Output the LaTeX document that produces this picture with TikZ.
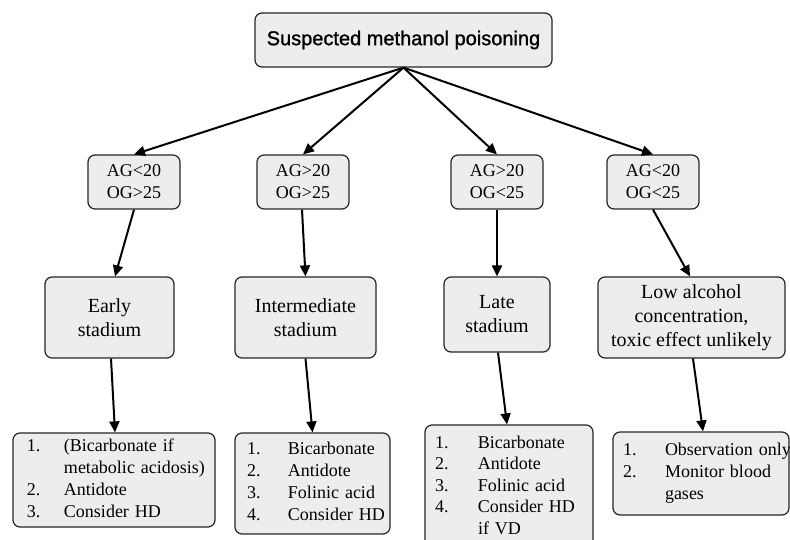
\documentclass[tikz,border=0pt]{standalone}
\usepackage{fontspec}
\setmainfont{Liberation Serif}
\newfontfamily\arialf[FakeBold=1.2]{Liberation Sans}
\usetikzlibrary{arrows.meta}
\begin{document}
\begin{tikzpicture}[x=1pt,y=-1pt,
 box/.style={draw=black!85, fill=black!7, line width=1.2pt, rounded corners=7pt, inner sep=0pt},
 conn/.style={line width=2pt, -{Triangle[length=11pt,width=10pt]}},
 ag/.style={box, minimum width=92pt, minimum height=54pt, align=center, font=\fontsize{18}{22}\selectfont},
 st/.style={box, align=center, font=\fontsize{20}{24}\selectfont},
 lst/.style={box, align=left, font=\fontsize{18}{22}\selectfont}]
\useasboundingbox (0,0) rectangle (790,540);
\clip (0,0) rectangle (790,540);
\node[box, minimum width=297pt, minimum height=54pt, font=\arialf\fontsize{20}{24}\selectfont] (top) at (403.5,40) {Suspected methanol poisoning};
\node[ag] (ag1) at (134,182) {AG<20\\OG>25};
\node[ag] (ag2) at (303,182) {AG>20\\OG>25};
\node[ag] (ag3) at (497,182) {AG>20\\OG<25};
\node[ag] (ag4) at (653,182) {AG<20\\OG<25};
\node[st, minimum width=129pt, minimum height=81pt] (st1) at (109.5,317.5) {Early\\stadium};
\node[st, minimum width=141pt, minimum height=81pt] (st2) at (305.5,317.5) {Intermediate\\stadium};
\node[st, minimum width=106pt, minimum height=75pt] (st3) at (497,314.5) {Late\\stadium};
\node[st, minimum width=187pt, minimum height=81pt] (st4) at (691.5,317.5) {Low alcohol\\concentration,\\toxic effect unlikely};
\node[lst, text width=174pt, inner xsep=14pt, minimum height=94pt] (la) at (114,480)
 {\begin{tabular}{@{}p{37pt}@{}l@{}}1.&(Bicarbonate if\\&metabolic acidosis)\\2.&Antidote\\3.&Consider HD\end{tabular}};
\node[lst, text width=131pt, inner xsep=12pt, minimum height=101pt] (lb) at (312.5,483.5)
 {\begin{tabular}{@{}p{41pt}@{}l@{}}1.&Bicarbonate\\2.&Antidote\\3.&Folinic acid\\4.&Consider HD\end{tabular}};
\node[lst, text width=148pt, inner xsep=10pt, minimum height=124pt, font=\fontsize{18}{21.5}\selectfont] (lc) at (509,487)
 {\begin{tabular}{@{}p{43pt}@{}l@{}}1.&Bicarbonate\\2.&Antidote\\3.&Folinic acid\\4.&Consider HD\\&if VD\end{tabular}};
\node[lst, text width=156pt, inner xsep=10pt, minimum height=83pt] (ld) at (701,473.5)
 {\begin{tabular}{@{}p{42pt}@{}l@{}}1.&Observation only\\2.&Monitor blood\\&gases\end{tabular}};
\foreach \i in {1,...,4} \draw[conn] (top.south) -- (ag\i.north);
\draw[conn] (ag1.south) -- ([xshift=5.5pt]st1.north);
\draw[conn] ([xshift=-1pt]ag2.south) -- (st2.north);
\draw[conn] (ag3.south) -- (st3.north);
\draw[conn] (ag4.south) -- ([xshift=-1.5pt]st4.north);
\draw[conn] ([xshift=1.5pt]st1.south) -- ([xshift=1pt]la.north);
\draw[conn] (st2.south) -- (lb.north);
\draw[conn] ([xshift=1pt]st3.south) -- ([xshift=-2pt]lc.north);
\draw[conn] ([xshift=1.5pt]st4.south) -- ([xshift=2pt]ld.north);
\end{tikzpicture}
\end{document}
